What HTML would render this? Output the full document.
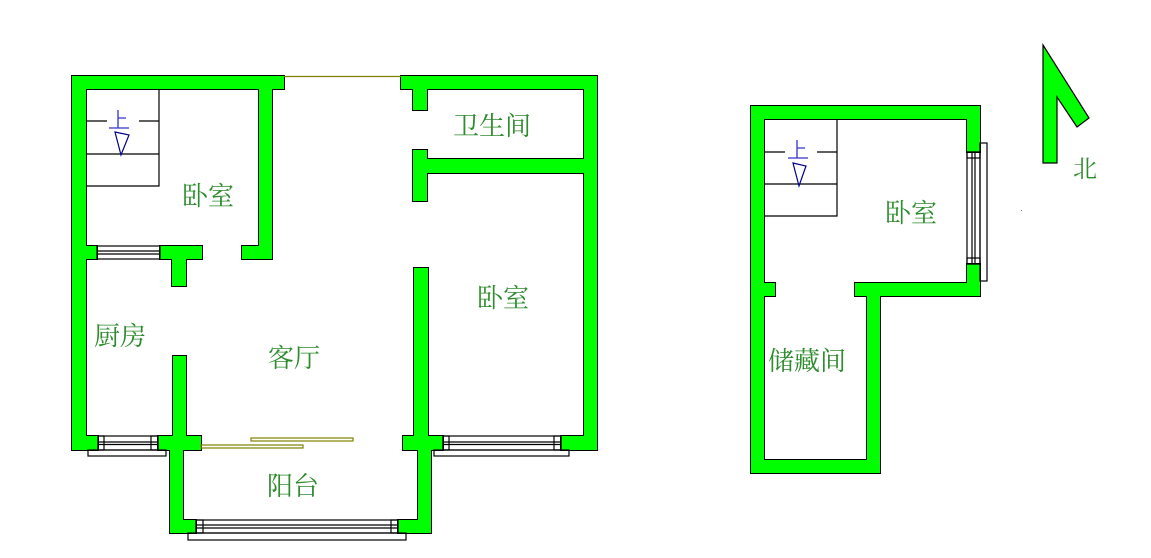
<!DOCTYPE html>
<html><head><meta charset="utf-8"><style>
html,body{margin:0;padding:0;background:#fff;}
svg{display:block}
text{font-family:"Liberation Serif","Noto Serif CJK SC",serif;fill:#2e8b2e;}
</style></head><body>
<svg width="1151" height="558" viewBox="0 0 1151 558" xmlns="http://www.w3.org/2000/svg">
<g stroke="#000" stroke-width="2" fill="#000">
<rect x="72" y="76" width="212" height="13"/>
<rect x="72" y="76" width="14" height="374"/>
<rect x="259" y="76" width="13" height="183"/>
<rect x="72" y="246" width="25" height="13"/>
<rect x="160" y="246" width="42" height="13"/>
<rect x="242" y="246" width="30" height="13"/>
<rect x="172" y="246" width="14" height="40"/>
<rect x="72" y="436" width="26" height="14"/>
<rect x="401" y="76" width="196" height="13"/>
<rect x="413" y="76" width="14" height="34"/>
<rect x="413" y="150" width="14" height="51"/>
<rect x="413" y="159" width="184" height="14"/>
<rect x="584" y="76" width="13" height="374"/>
<rect x="414" y="268" width="14" height="182"/>
<rect x="173" y="356" width="13" height="94"/>
<rect x="158" y="436" width="43" height="14"/>
<rect x="170" y="436" width="13" height="97"/>
<rect x="170" y="520" width="26" height="13"/>
<rect x="398" y="520" width="33" height="13"/>
<rect x="418" y="436" width="13" height="97"/>
<rect x="403" y="436" width="40" height="14"/>
<rect x="561" y="436" width="36" height="14"/>
<rect x="751" y="106" width="229" height="13"/>
<rect x="751" y="106" width="13" height="367"/>
<rect x="967" y="106" width="13" height="46"/>
<rect x="967" y="264" width="13" height="32"/>
<rect x="855" y="283" width="125" height="13"/>
<rect x="764" y="283" width="11" height="13"/>
<rect x="867" y="283" width="13" height="190"/>
<rect x="751" y="460" width="129" height="13"/>
</g>
<g fill="#00ff00" stroke="none">
<rect x="72" y="76" width="212" height="13"/>
<rect x="72" y="76" width="14" height="374"/>
<rect x="259" y="76" width="13" height="183"/>
<rect x="72" y="246" width="25" height="13"/>
<rect x="160" y="246" width="42" height="13"/>
<rect x="242" y="246" width="30" height="13"/>
<rect x="172" y="246" width="14" height="40"/>
<rect x="72" y="436" width="26" height="14"/>
<rect x="401" y="76" width="196" height="13"/>
<rect x="413" y="76" width="14" height="34"/>
<rect x="413" y="150" width="14" height="51"/>
<rect x="413" y="159" width="184" height="14"/>
<rect x="584" y="76" width="13" height="374"/>
<rect x="414" y="268" width="14" height="182"/>
<rect x="173" y="356" width="13" height="94"/>
<rect x="158" y="436" width="43" height="14"/>
<rect x="170" y="436" width="13" height="97"/>
<rect x="170" y="520" width="26" height="13"/>
<rect x="398" y="520" width="33" height="13"/>
<rect x="418" y="436" width="13" height="97"/>
<rect x="403" y="436" width="40" height="14"/>
<rect x="561" y="436" width="36" height="14"/>
<rect x="751" y="106" width="229" height="13"/>
<rect x="751" y="106" width="13" height="367"/>
<rect x="967" y="106" width="13" height="46"/>
<rect x="967" y="264" width="13" height="32"/>
<rect x="855" y="283" width="125" height="13"/>
<rect x="764" y="283" width="11" height="13"/>
<rect x="867" y="283" width="13" height="190"/>
<rect x="751" y="460" width="129" height="13"/>
</g>
<g fill="none" stroke="#000" stroke-width="1.2">
<rect x="97" y="246" width="63" height="13"/><line x1="97" y1="251" x2="160" y2="251"/><line x1="97" y1="254" x2="160" y2="254"/>
<rect x="98" y="436" width="60" height="14"/><line x1="98" y1="442" x2="158" y2="442"/><line x1="98" y1="444.5" x2="158" y2="444.5"/>
<rect x="98" y="436" width="6" height="14"/><rect x="151" y="436" width="7" height="14"/>
<rect x="88" y="450" width="78" height="6"/>
<rect x="443" y="436" width="118" height="14"/><line x1="443" y1="442" x2="561" y2="442"/><line x1="443" y1="444.5" x2="561" y2="444.5"/>
<rect x="443" y="436" width="6" height="14"/><rect x="554" y="436" width="7" height="14"/>
<rect x="434" y="450" width="135" height="6"/>
<rect x="196" y="520" width="202" height="13"/><line x1="196" y1="525" x2="398" y2="525"/><line x1="196" y1="528" x2="398" y2="528"/>
<rect x="196" y="520" width="7" height="13"/><rect x="391" y="520" width="7" height="13"/>
<rect x="188" y="533" width="218" height="7"/>
<rect x="967" y="152" width="13" height="112"/><line x1="972" y1="152" x2="972" y2="264"/><line x1="975" y1="152" x2="975" y2="264"/>
<rect x="967" y="152" width="13" height="6"/><rect x="967" y="258" width="13" height="6"/>
<rect x="980" y="143" width="7" height="138"/>
<polyline points="86,186 159,186 159,89"/>
<line x1="86" y1="154" x2="159" y2="154"/>
<line x1="86" y1="121" x2="107" y2="121"/><line x1="139" y1="121" x2="159" y2="121"/>
<polyline points="764,216 837,216 837,119"/>
<line x1="764" y1="184" x2="837" y2="184"/>
<line x1="764" y1="152" x2="785" y2="152"/><line x1="817" y1="152" x2="837" y2="152"/>
</g>
<g fill="none" stroke="#808000" stroke-width="1.2">
<line x1="284" y1="76.5" x2="401" y2="76.5"/>
<rect x="251" y="438" width="102" height="3"/>
<rect x="201" y="445" width="102" height="3"/>
</g>
<g fill="none" stroke="#00008b" stroke-width="1.2">
<path d="M115,132 L129,135 L121,155 Z"/>
<path d="M793,163 L806,166 L799,186 Z"/>
</g>
<g fill="none" stroke="#3333cc" stroke-width="1.3">
<path d="M118,110 V128 M118,118 H126 M109,128 H129"/>
<path d="M797,140 V158 M797,148 H805 M788,158 H808"/>
</g>
<polygon points="1043,45 1089,118 1077,127 1057,97 1057,163 1043,163" fill="#00ff00" stroke="#000" stroke-width="1.2"/>
<rect x="1021" y="210" width="1" height="1" fill="#888"/>
<g font-size="26">
<text x="182" y="205">卧室</text>
<text x="453" y="135">卫生间</text>
<text x="477" y="307">卧室</text>
<text x="94" y="345">厨房</text>
<text x="268" y="367">客厅</text>
<text x="267" y="495">阳台</text>
<text x="885" y="222">卧室</text>
<text x="768" y="370">储藏间</text>
<text x="1073" y="177" font-size="24">北</text>
</g>
</svg>
</body></html>
